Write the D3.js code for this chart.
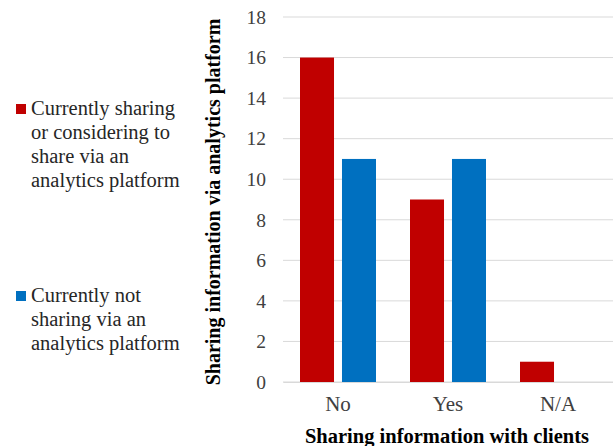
<!DOCTYPE html>
<html><head><meta charset="utf-8">
<script src="https://cdn.jsdelivr.net/npm/d3@7"></script>
<style>body{margin:0;background:#fff}svg{display:block}</style>
</head><body>
<svg id="c" width="613" height="446"></svg>
<script>
const categories = ["No", "Yes", "N/A"];
const seriesNames = ["Currently sharing or considering to share via an analytics platform", "Currently not sharing via an analytics platform"];
const sharingValues = [16, 9, 1];
const notSharingValues = [11, 11, 0];
const yTicks = [0, 2, 4, 6, 8, 10, 12, 14, 16, 18];
const legendLines = [["Currently sharing", "or considering to", "share via an", "analytics platform"], ["Currently not", "sharing via an", "analytics platform"]];
const colors = ["#C00000", "#0070C0"];

const svg = d3.select("#c");
const font = "Liberation Serif";
const x0 = d3.scaleBand().domain(categories).range([283, 613]).padding(0);
const x1 = d3.scaleBand().domain([0, 1]).range([0, x0.bandwidth()]).paddingInner(0.19).paddingOuter(0.405);
const y = d3.scaleLinear().domain([0, 18]).range([382, 17]);

// gridlines
svg.append("g").selectAll("line").data(yTicks).join("line")
  .attr("x1", 283).attr("x2", 613)
  .attr("y1", d => y(d)).attr("y2", d => y(d))
  .attr("stroke", "#d9d9d9").attr("stroke-width", 1);

const yAxis = svg.append("g").attr("transform", "translate(283,0)")
  .call(d3.axisLeft(y).tickValues(yTicks).tickSize(0).tickPadding(17));
yAxis.attr("font-family", font).attr("font-size", 19.5);
yAxis.select(".domain").remove();
yAxis.selectAll("text").attr("fill", "#404040");

const data = categories.map((c, i) => ({c, v: [sharingValues[i], notSharingValues[i]]}));
svg.append("g").selectAll("g").data(data).join("g")
  .attr("transform", d => `translate(${x0(d.c)},0)`)
  .selectAll("rect").data(d => d.v.map((v, k) => ({k, v}))).join("rect")
  .attr("x", d => x1(d.k)).attr("width", x1.bandwidth())
  .attr("y", d => y(d.v)).attr("height", d => y(0) - y(d.v))
  .attr("fill", d => colors[d.k]);

const xAxis = svg.append("g").attr("transform", "translate(0,382)")
  .call(d3.axisBottom(x0).tickSize(0).tickPadding(14));
xAxis.attr("font-family", font).attr("font-size", 21);
xAxis.select(".domain").attr("stroke", "#d9d9d9");
xAxis.selectAll("text").attr("fill", "#404040");

svg.append("text").attr("x", 447).attr("y", 443).attr("text-anchor", "middle")
  .attr("font-family", font).attr("font-size", 20.5).attr("font-weight", "bold")
  .text("Sharing information with clients");
svg.append("text").attr("transform", "translate(220,202) rotate(-90)").attr("text-anchor", "middle")
  .attr("font-family", font).attr("font-size", 20).attr("font-weight", "bold")
  .text("Sharing information via analytics platform");

// legend
const legTop = [104, 291];
legendLines.forEach((lines, k) => {
  svg.append("rect").attr("x", 16).attr("y", legTop[k]).attr("width", 10).attr("height", 10).attr("fill", colors[k]);
  const t = svg.append("text").attr("font-family", font).attr("font-size", 20.5).attr("fill", "#262626");
  lines.forEach((l, i) => t.append("tspan").attr("x", 31).attr("y", legTop[k] + 11 + i * 24).text(l));
});
</script>
</body></html>
